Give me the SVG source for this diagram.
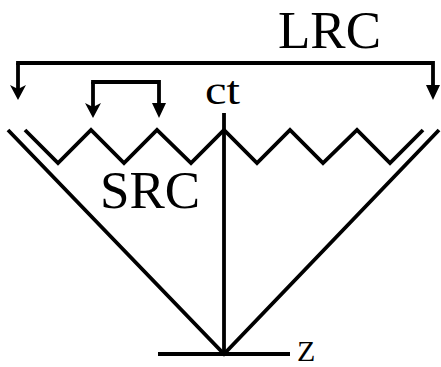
<svg xmlns="http://www.w3.org/2000/svg" width="441" height="367" viewBox="0 0 441 367">
<style>
.ln{fill:none;stroke:#000;stroke-width:3.8;stroke-linejoin:miter;stroke-linecap:butt}
.lbl{font-family:"Liberation Serif","Times New Roman",serif;fill:#000}
</style>
<defs>
<marker id="stealth" markerUnits="userSpaceOnUse" markerWidth="20" markerHeight="20" viewBox="-2 -10 20 20" refX="4" refY="0" orient="auto" overflow="visible">
<path d="M15,0 L0,-8 L4,0 L0,8 Z" fill="#000"/>
</marker>
<marker id="tri" markerUnits="userSpaceOnUse" markerWidth="20" markerHeight="20" viewBox="-2 -10 20 20" refX="1" refY="0" orient="auto" overflow="visible">
<path d="M15,0 L0,-7 L0,7 Z" fill="#000"/>
</marker>
</defs>
<rect width="441" height="367" fill="#fff"/>
<g id="cone">
<path class="ln" d="M8,130 L224,354 L439,130"/>
<path class="ln" d="M25,130 L58,163 L91,130 L124,163 L157,130 L191,163 L224,130 L257,163 L290,130 L323,163 L357,130 L390,163 L423,130"/>
<path class="ln" d="M224,113 V354"/>
<path class="ln" d="M158,354 H290"/>
</g>
<g id="connectors">
<path class="ln" d="M18,63 V89" marker-end="url(#stealth)"/>
<path class="ln" d="M16.1,63 H433 V86" marker-end="url(#tri)"/>
<path class="ln" d="M93,82 V107" marker-end="url(#stealth)"/>
<path class="ln" d="M91.1,82 H159 V104" marker-end="url(#tri)"/>
</g>
<g id="labels">
<text class="lbl" x="278" y="48" font-size="53">LRC</text>
<text class="lbl" x="100" y="208" font-size="53">SRC</text>
<text class="lbl" x="205" y="104" font-size="41" textLength="35" lengthAdjust="spacingAndGlyphs">ct</text>
<text class="lbl" x="297" y="361" font-size="30">Z</text>
</g>
</svg>
